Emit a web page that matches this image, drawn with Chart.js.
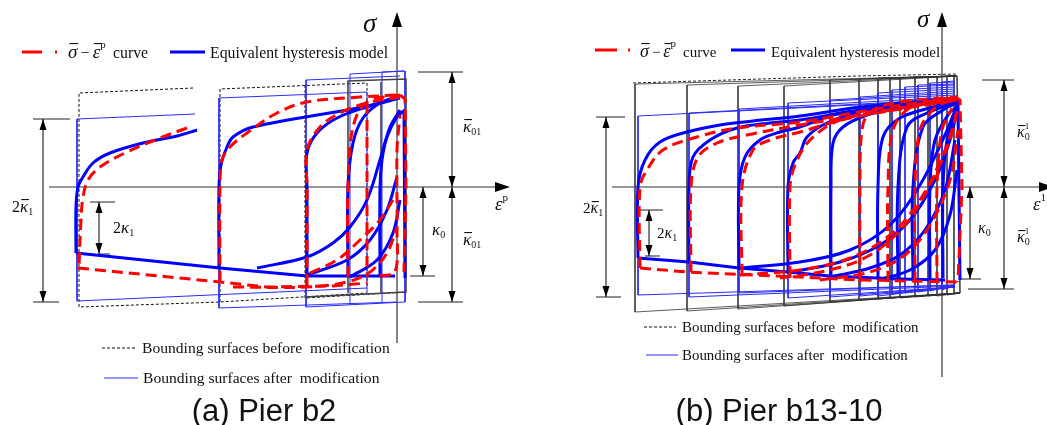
<!DOCTYPE html>
<html>
<head>
<meta charset="utf-8">
<script src="https://cdn.jsdelivr.net/npm/chart.js@4.4.1/dist/chart.umd.min.js"></script>
<style>
  html, body { margin: 0; padding: 0; background: #fff; }
  #wrap { position: relative; width: 1047px; height: 425px; overflow: hidden; }
  .panel { position: absolute; top: 0; height: 425px; }
  #pa { left: 0; width: 520px; }
  #pb { left: 520px; width: 527px; }
</style>
</head>
<body>
<div id="wrap">
  <div class="panel" id="pa"><canvas id="chartA"></canvas></div>
  <div class="panel" id="pb"><canvas id="chartB"></canvas></div>
</div>
<script>
// all points are [plastic strain, stress] in the schematic's own units (origin = axes crossing)

// ---------- (a) Pier b2 ----------
const aBlueCurves = [
  [[-200,57],[-220,51],[-254,44],[-287,34],[-304,24],[-314,10],[-319,0],[-321,-20],[-321,-66]],
  [[-178,-80],[-178,0],[-176,22],[-170,40],[-164,50],[-144,60],[-34,80],[1,89]],
  [[-90,-88],[-90,0],[-90,34],[-80,54],[-60,69],[-30,80],[3,89]],
  [[-49,-88],[-49,0],[-44,44],[-34,69],[-17,84],[1,90]],
  [[-17,-88],[-17,0],[-15,27],[-10,50],[0,70],[8,77]],
  [[-140,-81],[-90,-70],[-64,-56],[-47,-40],[-30,-13],[-17,27],[-7,60],[3,77]],
  [[-90,-88],[-50,-73],[-27,-53],[-10,-23],[0,10]],
  [[-47,-90],[-20,-73],[-4,-46],[3,-13]]
];
const aBlueStraight = [
  [[-321,-66],[-177,-81],[-90,-89],[-2,-89]],
  [[7,77],[8,-91]]
];
const aRedCurves = [
  [[-210,59],[-237,49],[-270,35],[-297,20],[-309,7],[-314,-10],[-316,-33],[-318,-80]],
  [[-177,-95],[-177,0],[-175,27],[-167,40],[-150,54],[-120,74],[-90,85],[-37,90],[0,92]],
  [[-90,-98],[-90,0],[-90,37],[-77,60],[-57,74],[-30,84],[3,90]],
  [[-49,-90],[-49,0],[-44,60],[-30,85],[3,92]],
  [[-17,-89],[-2,-85],[0,-43],[0,37],[3,72]],
  [[-164,-100],[-90,-100],[-50,-95],[-27,-85],[-10,-66],[0,-40]],
  [[-87,-86],[-60,-73],[-37,-53],[-17,-33],[-4,-13]]
];
const aRedStraight = [
  [[-319,-81],[-177,-95],[-130,-100],[-64,-99],[-30,-96]],
  [[-30,84],[-30,-90]],
  [[3,92],[8,88],[9,0],[7,-85]]
];
const aBoundBefore = [
  [[-204,99],[-318,94],[-318,-120],[-177,-115],[-30,-106]],
  [[-177,-115],[-177,98],[-30,104],[-30,-101]],
  [[-92,102],[-92,-111],[9,-105]]
];
const aBoundAfter = [
  [[-202,73],[-320,68],[-320,-114],[-30,-101]],
  [[-30,-106],[-30,95],[-178,89],[-178,-121],[0,-115]],
  [[3,111],[-91,107],[-91,-120],[8,-115]],
  [[-47,-118],[-47,113],[8,116],[8,-115]],
  [[-15,-115],[-15,115],[7,116]]
];
const aBoundGrey = [
  [[-49,-106],[-49,106],[9,108],[9,-105],[-91,-110]],
  [[-16,105],[-16,-107]]
];
const aAxes = [ [[-348,0],[111,0]], [[0,-156],[0,172]] ];
const aTicks = [
  [[-364,68],[-327,68]], [[-364,-115],[-338,-115]],
  [[-307,-15],[-282,-15]], [[-298,-67],[-287,-67]],
  [[21,115],[66,115]], [[21,-115],[66,-115]], [[13,-89],[38,-89]]
];
const aDims = [
  { x: -354, y1: 68, y2: -115 }, { x: -298, y1: -15, y2: -67 },
  { x: 55, y1: 115, y2: 0 }, { x: 55, y1: 0, y2: -115 }, { x: 26, y1: 0, y2: -89 }
];

// ---------- (b) Pier b13-10 ----------
const bBlueCurves = [
  [[-304,-71],[-304,0],[-297,27],[-282,45],[-255,55],[-222,62],[-189,66],[-142,71],[-82,80],[-42,84],[15,89]],
  [[-253,-75],[-253,0],[-249,30],[-232,47],[-205,59],[-172,64],[-142,67],[-82,77],[15,87]],
  [[-203,-83],[-203,0],[-197,30],[-182,47],[-162,55],[-142,60],[-109,72],[-42,81],[15,87]],
  [[-154,-86],[-154,0],[-149,24],[-142,34],[-135,50],[-115,64],[-75,77],[15,88]],
  [[-111,-90],[-111,0],[-109,44],[-99,60],[-75,72],[-42,80],[15,87]],
  [[-64,-90],[-64,0],[-59,50],[-42,69],[-9,80],[15,87]],
  [[-44,-93],[-44,0],[-35,60],[-15,74],[15,85]],
  [[-29,-93],[-29,0],[-19,60],[1,77],[15,84]],
  [[-12,-93],[-12,0],[-7,47],[8,75],[15,79]],
  [[1,-91],[1,0],[5,47],[13,72]],
  [[-152,-85],[-102,-75],[-62,-58],[-32,-33],[-7,7],[8,47],[15,77]],
  [[-112,-90],[-72,-81],[-42,-68],[-17,-43],[3,-3],[13,47]],
  [[-64,-93],[-32,-83],[-7,-63],[8,-28],[15,17]],
  [[-202,-81],[-142,-75],[-92,-63],[-52,-38],[-22,2],[3,52],[15,82]]
];
const bBlueStraight = [
  [[-304,-71],[-253,-75],[-203,-81],[-154,-85],[-112,-89],[-42,-92],[3,-93]],
  [[16,87],[18,-93]]
];
const bRedCurves = [
  [[-302,-81],[-302,0],[-295,17],[-279,37],[-245,50],[-205,59],[-142,65],[-72,77],[15,90]],
  [[-251,-85],[-251,0],[-244,30],[-225,44],[-195,52],[-142,62],[-62,75],[15,89]],
  [[-200,-88],[-200,0],[-189,37],[-172,47],[-142,55],[-92,69],[15,87]],
  [[-152,-90],[-152,0],[-147,22],[-132,47],[-102,67],[-42,79],[15,87]],
  [[-82,-95],[-82,0],[-80,57],[-72,75],[-42,85],[15,90]],
  [[-54,-95],[-54,0],[-49,57],[-32,79],[15,90]],
  [[-27,-96],[-27,0],[-22,57],[-7,79],[15,89]],
  [[-5,-96],[-5,0],[0,57],[10,79]],
  [[-162,-91],[-112,-83],[-72,-68],[-37,-38],[-12,2],[8,47],[16,82]],
  [[-122,-93],[-72,-85],[-37,-68],[-12,-38],[8,7],[16,57]],
  [[-202,-88],[-142,-83],[-92,-71],[-52,-48],[-22,-13],[3,37],[16,77]]
];
const bRedStraight = [
  [[-302,-81],[-255,-85],[-142,-90],[-82,-93],[15,-95]],
  [[13,90],[18,87],[20,0],[16,-95]]
];
// bounding surfaces before modification (thin black)
const bBeforeX   = [-307,-255,-204,-158,-112,-83,-64,-52,-42,-27,-14,-5,5,12];
const bBeforeTop = [103,102,101,101,107,108,109,109,109,110,110,110,111,111];
const bBeforeBot = [-125,-124,-122,-119,-115,-113,-112,-111,-111,-110,-109,-109,-108,-107];
// bounding surfaces after modification (thin blue)
const bAfterX    = [-304,-253,-203,-154,-112,-82,-64,-50,-37,-24,-12,0];
const bAfterTop  = [71,74,78,84,87,90,94,97,100,102,104,105];
const bAfterBot  = [-108,-110,-106,-111,-110,-109,-109,-107,-106,-105,-104,-103];
const bAfterTopR = [87,88,90,92,94,96,98,100,102,103,105,106];
const bAfterBotR = [-98,-99,-98,-100,-100,-100,-100,-99,-99,-99,-98,-98];
const bAxes = [ [[-330,0],[110,0]], [[0,-190],[0,172]] ];
const bTicks = [
  [[-346,70],[-317,70]], [[-346,-110],[-321,-110]],
  [[-302,-23],[-279,-23]], [[-297,-69],[-282,-69]],
  [[40,107],[72,107]], [[26,-102],[72,-102]], [[18,-92],[39,-92]]
];
const bDims = [
  { x: -336, y1: 70, y2: -110 }, { x: -293, y1: -23, y2: -69 },
  { x: 62, y1: 107, y2: 0 }, { x: 62, y1: 0, y2: -102 }, { x: 28, y1: 0, y2: -92 }
];

const SERIF = '"Liberation Serif", "Times New Roman", serif';
const SANS = '"Liberation Sans", Arial, sans-serif';
const it = s => `italic ${s}px ${SERIF}`;
const rm = s => `${s}px ${SERIF}`;

function line(pts, color, width, dash, tension) {
  return {
    data: pts.map(([x, y]) => ({ x, y })),
    showLine: true,
    borderColor: color,
    borderWidth: width,
    borderDash: dash || [],
    tension: tension || 0,
    pointRadius: 0,
    pointHoverRadius: 0,
    fill: false
  };
}

function head(ctx, x, y, dx, dy, len, hw) {
  const bx = x - dx * len, by = y - dy * len;
  ctx.beginPath();
  ctx.moveTo(x, y);
  ctx.lineTo(bx - dy * hw, by + dx * hw);
  ctx.lineTo(bx + dy * hw, by - dx * hw);
  ctx.closePath();
  ctx.fill();
}

function rich(ctx, x, y, parts, align) {
  let total = 0;
  parts.forEach(q => { ctx.font = q.f; q.w = ctx.measureText(q.t).width; if (!q.stay) total += q.w; });
  let cx = align === 'center' ? x - total / 2 : x;
  ctx.textAlign = 'left';
  ctx.textBaseline = 'alphabetic';
  parts.forEach(q => {
    ctx.font = q.f;
    ctx.fillText(q.t, cx, y + (q.dy || 0));
    if (q.bar) ctx.fillRect(cx + q.w * 0.15, y - q.bar, q.w * 0.95, 1.1);
    if (!q.stay) cx += q.w;
  });
}

// arrows, legend samples and labels, placed through the chart's scales
function makeOverlay(p) {
  return {
    id: 'overlay',
    afterDatasetsDraw(chart) {
      const ctx = chart.ctx, sx = chart.scales.x, sy = chart.scales.y;
      const X = v => sx.getPixelForValue(v), Y = v => sy.getPixelForValue(v);
      ctx.save();
      ctx.fillStyle = '#000';
      ctx.strokeStyle = '#000';
      head(ctx, X(0), Y(p.sigmaTip), 0, -1, 15, 5);
      head(ctx, X(p.epsTip), Y(0), 1, 0, 15, 5);
      ctx.lineWidth = 1;
      p.dims.forEach(d => {
        const x = X(d.x), y1 = Y(d.y1), y2 = Y(d.y2);
        ctx.beginPath(); ctx.moveTo(x, y1); ctx.lineTo(x, y2); ctx.stroke();
        head(ctx, x, y1, 0, -1, 11, 3.5);
        head(ctx, x, y2, 0, 1, 11, 3.5);
      });
      p.samples.forEach(s => {
        ctx.strokeStyle = s.color;
        ctx.lineWidth = s.width;
        ctx.setLineDash(s.dash || []);
        ctx.beginPath(); ctx.moveTo(X(s.x1), Y(s.y)); ctx.lineTo(X(s.x2), Y(s.y)); ctx.stroke();
      });
      ctx.setLineDash([]);
      ctx.fillStyle = '#111';
      p.labels.forEach(l => rich(ctx, X(l.x), Y(l.y), l.parts, l.align));
      ctx.restore();
    }
  };
}

function makePanel(id, p) {
  const ds = [];
  p.redCurves.forEach(c => ds.push(line(c, '#ff0000', 3, [11, 6], 0.35)));
  p.redStraight.forEach(c => ds.push(line(c, '#ff0000', 3, [11, 6], 0)));
  p.blueCurves.forEach(c => ds.push(line(c, '#0000ff', 3, null, 0.35)));
  p.blueStraight.forEach(c => ds.push(line(c, '#0000ff', 3, null, 0)));
  p.grey.forEach(c => ds.push(line(c, '#444', 1.6, null, 0)));
  p.after.forEach(c => ds.push(line(c, '#2b2bff', 1, null, 0)));
  p.before.forEach(c => ds.push(line(c, p.beforeColor, p.beforeWidth, p.beforeDash, 0)));
  (p.extraDashed || []).forEach(c => ds.push(line(c, '#222', 1, [3, 2], 0)));
  p.axes.forEach(c => ds.push(line(c, '#333', 1.2, null, 0)));
  p.ticks.forEach(c => ds.push(line(c, '#222', 1, null, 0)));

  return new Chart(document.getElementById(id), {
    type: 'scatter',
    data: { datasets: ds },
    options: {
      responsive: true,
      maintainAspectRatio: false,
      animation: false,
      layout: { padding: 0 },
      events: [],
      scales: {
        x: { type: 'linear', min: p.xMin, max: p.xMax, display: false },
        y: { type: 'linear', min: -238, max: 187, display: false }
      },
      plugins: { legend: { display: false }, tooltip: { enabled: false } }
    },
    plugins: [makeOverlay(p)]
  });
}

const bBefore = bBeforeX.map((x, i) => [[15, 111], [x, bBeforeTop[i]], [x, bBeforeBot[i]], [18, -106]]);
const bAfter = bAfterX.map((x, i) => [[13, bAfterTopR[i]], [x, bAfterTop[i]], [x, bAfterBot[i]], [13, bAfterBotR[i]]]);

const legendMath = (s, bar) => [
  { t: 'σ', f: it(s), bar: bar },
  { t: '\u2009−\u2009', f: rm(s - 3) },
  { t: 'ε', f: it(s), bar: bar },
  { t: 'p', f: rm(11), dy: -10 }
];

makePanel('chartA', {
  xMin: -397, xMax: 123,
  redCurves: aRedCurves, redStraight: aRedStraight,
  blueCurves: aBlueCurves, blueStraight: aBlueStraight,
  grey: aBoundGrey, after: aBoundAfter, before: aBoundBefore,
  beforeColor: '#111', beforeWidth: 1, beforeDash: [3, 2],
  axes: aAxes, ticks: aTicks, dims: aDims,
  sigmaTip: 175, epsTip: 113,
  samples: [
    { x1: -375, x2: -355, y: 135, color: '#ff0000', width: 3 },
    { x1: -342, x2: -340, y: 135, color: '#ff0000', width: 3 },
    { x1: -227, x2: -192, y: 135, color: '#0000ff', width: 3 },
    { x1: -295, x2: -262, y: -161, color: '#111', width: 1, dash: [3, 2] },
    { x1: -293, x2: -259, y: -191, color: '#2b2bff', width: 1 }
  ],
  labels: [
    { x: -34, y: 155, parts: [{ t: 'σ', f: it(27) }] },
    { x: 98, y: -23, parts: [{ t: 'ε', f: it(19) }, { t: 'p', f: rm(11), dy: -9 }] },
    { x: -385, y: -25, parts: [{ t: '2', f: rm(16) }, { t: 'κ', f: it(17), bar: 13 }, { t: '1', f: rm(10), dy: 3 }] },
    { x: -284, y: -46, parts: [{ t: '2', f: rm(16) }, { t: 'κ', f: it(17) }, { t: '1', f: rm(10), dy: 3 }] },
    { x: 66, y: 55, parts: [{ t: 'κ', f: it(17), bar: 13 }, { t: '01', f: rm(10), dy: 3 }] },
    { x: 66, y: -58, parts: [{ t: 'κ', f: it(17), bar: 13 }, { t: '01', f: rm(10), dy: 3 }] },
    { x: 35, y: -48, parts: [{ t: 'κ', f: it(17) }, { t: '0', f: rm(10), dy: 3 }] },
    { x: -329, y: 129, parts: legendMath(19, 15) },
    { x: -284, y: 129, parts: [{ t: 'curve', f: rm(15.8) }] },
    { x: -187, y: 129, parts: [{ t: 'Equivalent hysteresis model', f: rm(15.8) }] },
    { x: -255, y: -166, parts: [{ t: 'Bounding surfaces before  modification', f: rm(15.6) }] },
    { x: -254, y: -196, parts: [{ t: 'Bounding surfaces after  modification', f: rm(15.6) }] },
    { x: -133, y: -234, align: 'center', parts: [{ t: '(a) Pier b2', f: `31px ${SANS}` }] }
  ]
});

makePanel('chartB', {
  xMin: -422, xMax: 105,
  redCurves: bRedCurves, redStraight: bRedStraight,
  blueCurves: bBlueCurves, blueStraight: bBlueStraight,
  grey: [[[15, 111], [18, -106]]], after: bAfter, before: bBefore,
  extraDashed: [[[-309, 104], [-85, 111], [15, 113]]],
  beforeColor: '#333', beforeWidth: 0.8, beforeDash: null,
  axes: bAxes, ticks: bTicks, dims: bDims,
  sigmaTip: 175, epsTip: 112,
  samples: [
    { x1: -347, x2: -325, y: 137, color: '#ff0000', width: 3 },
    { x1: -314, x2: -312, y: 137, color: '#ff0000', width: 3 },
    { x1: -211, x2: -177, y: 137, color: '#0000ff', width: 3 },
    { x1: -298, x2: -266, y: -140, color: '#111', width: 1, dash: [3, 2] },
    { x1: -296, x2: -264, y: -168, color: '#2b2bff', width: 1 }
  ],
  labels: [
    { x: -25, y: 160, parts: [{ t: 'σ', f: it(25) }] },
    { x: 91, y: -23, parts: [{ t: 'ε', f: it(19) }, { t: '1', f: rm(11), dy: -9 }] },
    { x: -359, y: -26, parts: [{ t: '2', f: rm(15) }, { t: 'κ', f: it(16), bar: 12 }, { t: '1', f: rm(10), dy: 3 }] },
    { x: -285, y: -51, parts: [{ t: '2', f: rm(15) }, { t: 'κ', f: it(16) }, { t: '1', f: rm(10), dy: 3 }] },
    { x: 75, y: 50, parts: [{ t: 'κ', f: it(16), bar: 12 }, { t: '1', f: rm(9), dy: -8, stay: true }, { t: '0', f: rm(10), dy: 3 }] },
    { x: 75, y: -55, parts: [{ t: 'κ', f: it(16), bar: 12 }, { t: '1', f: rm(9), dy: -8, stay: true }, { t: '0', f: rm(10), dy: 3 }] },
    { x: 36, y: -46, parts: [{ t: 'κ', f: it(16) }, { t: '0', f: rm(10), dy: 3 }] },
    { x: -302, y: 130, parts: legendMath(18, 14) },
    { x: -259, y: 130, parts: [{ t: 'curve', f: rm(15) }] },
    { x: -171, y: 130, parts: [{ t: 'Equivalent hysteresis model', f: rm(15) }] },
    { x: -260, y: -145, parts: [{ t: 'Bounding surfaces before  modification', f: rm(14.9) }] },
    { x: -260, y: -173, parts: [{ t: 'Bounding surfaces after  modification', f: rm(14.9) }] },
    { x: -163, y: -234, align: 'center', parts: [{ t: '(b) Pier b13-10', f: `31px ${SANS}` }] }
  ]
});
</script>
</body>
</html>
